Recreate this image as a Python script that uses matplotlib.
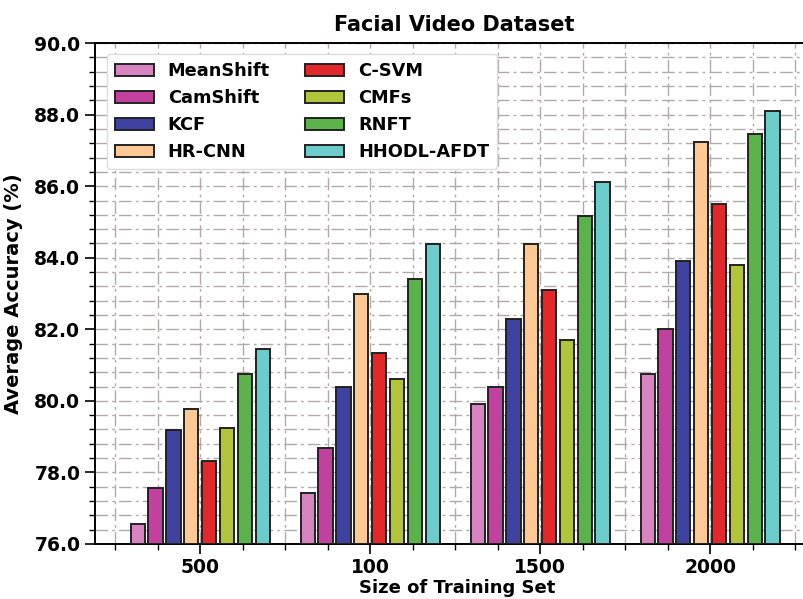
import numpy as np
import matplotlib

matplotlib.use("Agg")
import matplotlib.pyplot as plt
from matplotlib.ticker import MultipleLocator, FormatStrFormatter

# training set sizes (group labels as printed)
groups = ["500", "100", "1500", "2000"]

methods = ["MeanShift", "CamShift", "KCF", "HR-CNN",
           "C-SVM", "CMFs", "RNFT", "HHODL-AFDT"]

meanshift = [76.55, 77.43, 79.90, 80.74]
camshift = [77.57, 78.67, 80.38, 82.00]
kcf = [79.18, 80.39, 82.30, 83.91]
hr_cnn = [79.76, 83.00, 84.38, 87.24]
c_svm = [78.31, 81.33, 83.11, 85.51]
cmfs = [79.25, 80.60, 81.69, 83.81]
rnft = [80.76, 83.41, 85.18, 87.45]
hhodl_afdt = [81.44, 84.39, 86.13, 88.10]

series = [meanshift, camshift, kcf, hr_cnn, c_svm, cmfs, rnft, hhodl_afdt]
colors = ["#d884c0", "#c2419e", "#3f42a0", "#fdc893",
          "#e3282c", "#b1c43c", "#5cb24a", "#6ccbcb"]

fig = plt.figure(figsize=(8.04, 5.99), dpi=100)
ax = fig.add_axes([0.118, 0.092, 0.902, 0.836])

x = np.arange(len(groups))
pitch = 0.105
width = 0.084
for i, (vals, c, name) in enumerate(zip(series, colors, methods)):
    ax.bar(x + (i - 3.5) * pitch, np.array(vals) - 76, width, bottom=76,
           color=c, edgecolor="#222222", linewidth=1.4, label=name, zorder=3)

ax.set_ylim(76, 90)
ax.set_xlim(-0.62, 3.647)
ax.yaxis.set_major_locator(MultipleLocator(2))
ax.yaxis.set_minor_locator(MultipleLocator(0.4))
ax.yaxis.set_major_formatter(FormatStrFormatter("%.1f"))
ax.set_xticks(x)
ax.set_xticklabels(groups)
ax.xaxis.set_minor_locator(MultipleLocator(0.25))

ax.tick_params(which="major", length=7, width=1.2, labelsize=13.5)
ax.tick_params(which="minor", length=4, width=1.0)
for lbl in ax.get_xticklabels() + ax.get_yticklabels():
    lbl.set_fontweight("bold")

ax.grid(True, which="both", linestyle=(0, (9, 3, 2, 3)), color="#b2a9a9",
        linewidth=1.0, zorder=0)
ax.set_axisbelow(True)
for s in ax.spines.values():
    s.set_linewidth(1.4)

ax.set_xlabel("Size of Training Set", fontsize=13, fontweight="bold", labelpad=1)
ax.set_ylabel("Average Accuracy (%)", fontsize=14, fontweight="bold", labelpad=8)
ax.set_title("Facial Video Dataset", fontsize=15, fontweight="bold",
             x=0.495, pad=9)

ax.legend(loc="upper left", ncol=2, prop={"weight": "bold", "size": 12.75},
          columnspacing=2.0, handlelength=2.2, borderpad=0.45, labelspacing=0.5,
          framealpha=1.0, edgecolor="#dddddd", bbox_to_anchor=(0.004, 0.995))

fig.savefig("out.png", dpi=100)
